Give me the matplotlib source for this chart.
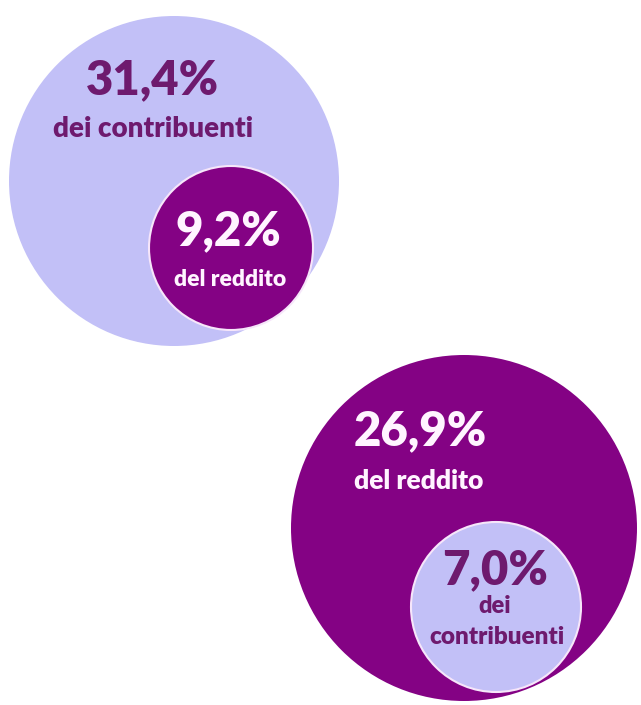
import matplotlib
matplotlib.use("Agg")
import matplotlib.pyplot as plt
from matplotlib.patches import Circle

# Data
group_values = ["31,4%", "26,9%"]
group_labels = ["dei contribuenti", "del reddito"]
inner_values = ["9,2%", "7,0%"]
inner_labels = ["del reddito", "dei\ncontribuenti"]

LAV = "#C2C0F7"
PUR = "#840284"
DARK = "#6E1A6E"
WHITE = "#FFF4FF"

plt.rcParams['font.family'] = ['Lato', 'DejaVu Sans']
W = 'heavy'

fig = plt.figure(figsize=(6.41, 7.05), dpi=100)
ax = fig.add_axes([0, 0, 1, 1])
ax.set_xlim(0, 641)
ax.set_ylim(705, 0)
ax.set_aspect('equal')
ax.axis('off')

big = [((174, 181), 165, LAV), ((464, 528), 173, PUR)]
small = [((231, 248), 82, PUR), ((496, 607), 85, LAV)]
big_text_col = [DARK, WHITE]
small_text_col = [WHITE, DARK]

for (c, r, col) in big:
    ax.add_patch(Circle(c, r, facecolor=col, edgecolor='none', zorder=1))
for (c, r, col) in small:
    ax.add_patch(Circle(c, r, facecolor=col, edgecolor='#F6E6FA', lw=1.5, zorder=2))

# Top group
ax.text(152, 80, group_values[0], ha='center', va='center', fontsize=34,
        fontweight=W, color=big_text_col[0], zorder=3)
ax.text(153, 129, group_labels[0], ha='center', va='center', fontsize=20,
        fontweight=W, color=big_text_col[0], zorder=3)
ax.text(228, 231, inner_values[0], ha='center', va='center', fontsize=34,
        fontweight=W, color=small_text_col[0], zorder=3)
ax.text(230, 280, inner_labels[0], ha='center', va='center', fontsize=16.5,
        fontweight=W, color=small_text_col[0], zorder=3)

# Bottom group
ax.text(420, 431, group_values[1], ha='center', va='center', fontsize=34,
        fontweight=W, color=big_text_col[1], zorder=3)
ax.text(419, 481, group_labels[1], ha='center', va='center', fontsize=19,
        fontweight=W, color=big_text_col[1], zorder=3)
ax.text(495, 570, inner_values[1], ha='center', va='center', fontsize=34,
        fontweight=W, color=small_text_col[1], zorder=3)
lines = inner_labels[1].split("\n")
ax.text(495, 606, lines[0], ha='center', va='center', fontsize=17,
        fontweight=W, color=small_text_col[1], zorder=3)
ax.text(497, 637, lines[1], ha='center', va='center', fontsize=17.5,
        fontweight=W, color=small_text_col[1], zorder=3)

fig.savefig("out.png", dpi=100, facecolor='white')
